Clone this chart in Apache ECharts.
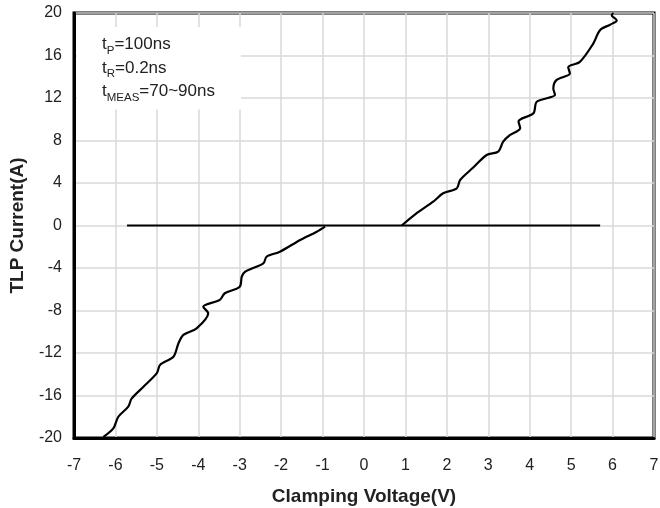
<!DOCTYPE html>
<html><head><meta charset="utf-8">
<script src="https://cdn.jsdelivr.net/npm/echarts@6/dist/echarts.min.js"></script>
<style>html,body{margin:0;padding:0;background:#fff}#c{width:660px;height:508px}</style>
</head><body><div id="c"></div>
<script>
const xTicks = [-7,-6,-5,-4,-3,-2,-1,0,1,2,3,4,5,6,7];
const yTicks = [-20,-16,-12,-8,-4,0,4,8,12,16,20];
const posV = [0.91,1.25,1.67,1.91,2.24,2.32,2.65,2.96,3.24,3.36,3.52,3.77,3.73,4.09,4.17,4.61,4.57,4.65,4.97,4.93,5.21,5.53,5.70,5.94,6.10,5.98,6.02];
const posI = [0.0,1.1,2.24,3.03,3.5,4.28,5.5,6.64,6.95,7.9,8.5,9.15,9.8,10.56,11.65,12.3,12.9,13.7,14.3,14.9,15.4,17.1,18.4,18.9,19.3,19.8,20.0];
const negV = [-0.94,-1.14,-1.54,-2.03,-2.35,-2.43,-2.87,-2.95,-3.0,-3.36,-3.48,-3.88,-3.76,-4.04,-4.36,-4.48,-4.60,-4.92,-5.0,-5.33,-5.61,-5.69,-5.93,-6.05,-6.29];
const negI = [-0.1,-0.58,-1.36,-2.47,-2.93,-3.56,-4.35,-4.82,-5.76,-6.38,-7.0,-7.64,-8.27,-9.68,-10.3,-11.1,-12.35,-13.1,-13.9,-15.2,-16.3,-17.05,-18.0,-19.1,-19.9];
const flatV = [-5.72, 5.70];
const flatI = [0, 0];
const annot = ['t{s|P}=100ns','t{s|R}=0.2ns','t{s|MEAS}=70~90ns'];

const zip = (a,b)=>a.map((v,i)=>[v,b[i]]);
const FF = 'Liberation Sans, Arial, sans-serif';
const chart = echarts.init(document.getElementById('c'));
const lineStyle = {color:'#000', width:2.2};
chart.setOption({
  animation:false,
  grid:{left:74,right:6,top:13,bottom:70,show:true,borderColor:'#000',borderWidth:3,outerBoundsMode:'none',containLabel:false},
  title:{
    text: annot.join('\n'),
    left:77, top:27,
    backgroundColor:'#fff',
    padding:[6,26,6,25],
    textStyle:{fontFamily:FF,fontSize:17,fontWeight:'normal',color:'#222',lineHeight:23.5,
      rich:{s:{fontSize:11.5,fontFamily:FF,color:'#222',verticalAlign:'bottom',lineHeight:19}}}
  },
  xAxis:{type:'value',min:-7,max:7,interval:1,
    name:'Clamping Voltage(V)',nameLocation:'middle',nameGap:49,
    nameTextStyle:{fontFamily:FF,fontSize:19,fontWeight:'bold',color:'#222'},
    axisLine:{show:true,onZero:false,lineStyle:{color:'#000',width:3}},
    axisTick:{show:false},
    axisLabel:{fontFamily:FF,fontSize:16,color:'#222',margin:20},
    splitLine:{show:true,lineStyle:{color:'#d9d9d9',width:1.5}}
  },
  yAxis:{type:'value',min:-20,max:20,interval:4,
    name:'TLP Current(A)',nameLocation:'middle',nameGap:47,
    nameTextStyle:{fontFamily:FF,fontSize:19,fontWeight:'bold',color:'#222'},
    axisLine:{show:true,onZero:false,lineStyle:{color:'#000',width:3}},
    axisTick:{show:false},
    axisLabel:{fontFamily:FF,fontSize:16,color:'#222',margin:12},
    splitLine:{show:true,lineStyle:{color:'#d9d9d9',width:1.5}}
  },
  series:[
    {type:'line',data:zip(flatV,flatI),symbol:'none',lineStyle:lineStyle,z:3},
    {type:'line',data:zip(posV,posI),symbol:'none',smooth:0.3,lineStyle:lineStyle,z:4},
    {type:'line',data:zip(negV,negI),symbol:'none',smooth:0.3,lineStyle:lineStyle,z:4}
  ]
});
</script></body></html>
